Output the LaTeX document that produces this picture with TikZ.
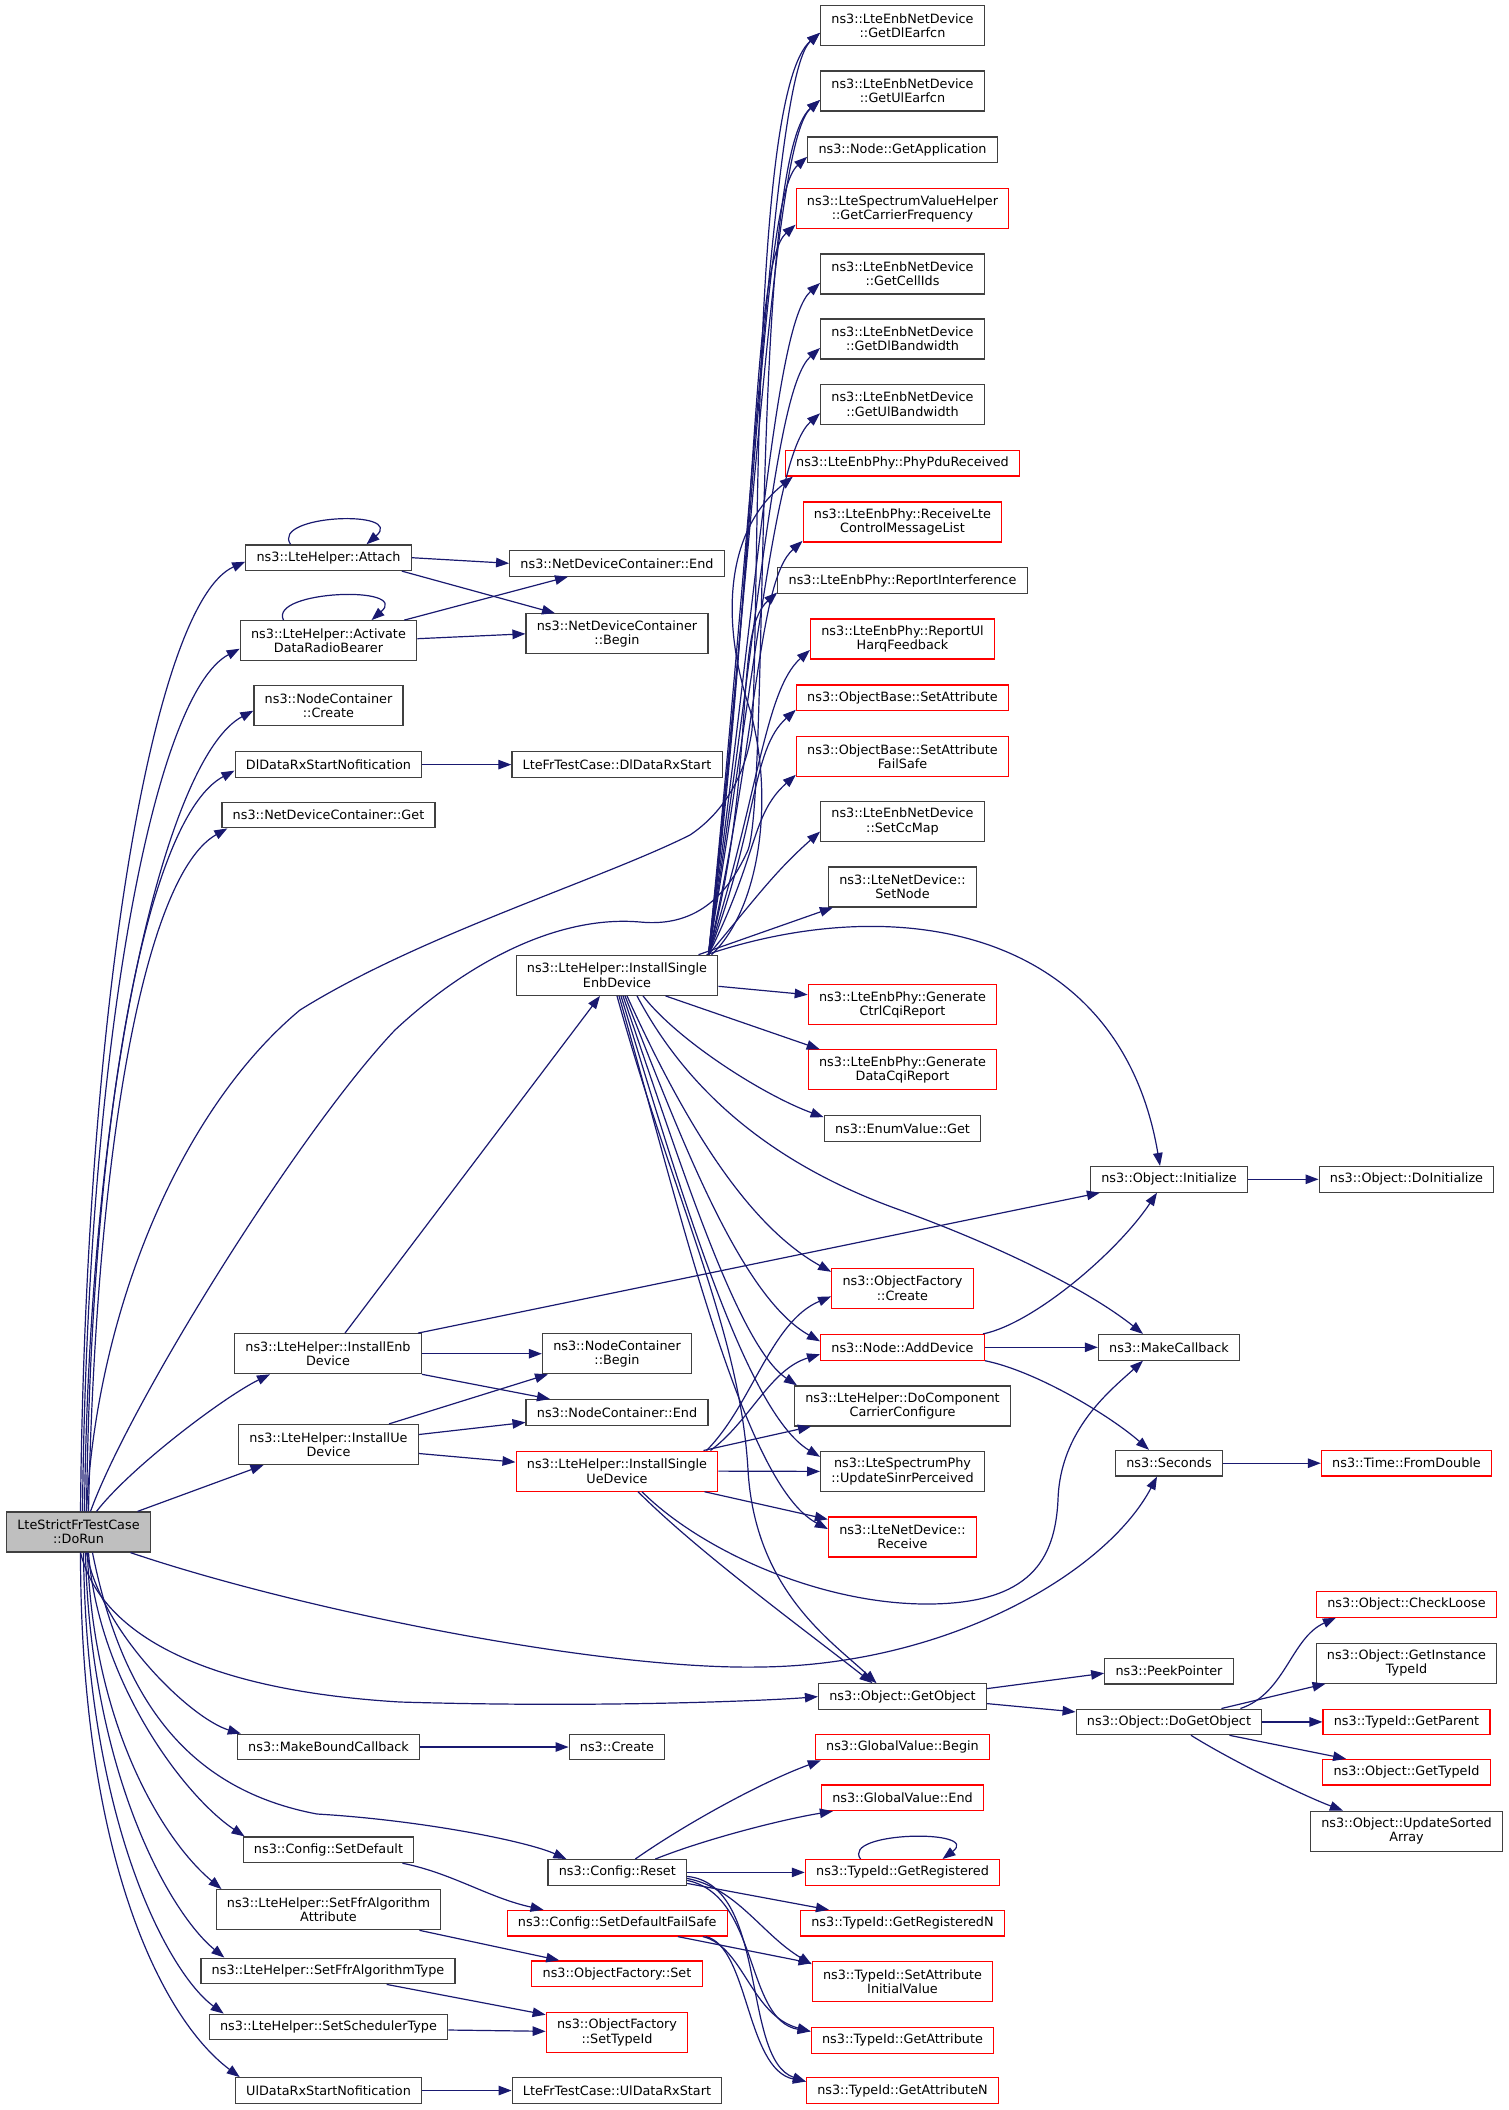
\documentclass[tikz,border=0pt]{standalone}
\usepackage{fontspec}
\setmainfont{DejaVu Sans}
\usetikzlibrary{arrows.meta}
\definecolor{edgeblue}{HTML}{191970}
\definecolor{boxgray}{HTML}{404040}
\definecolor{rootfill}{HTML}{BFBFBF}

\begin{document}
\begin{tikzpicture}[x=1pt,y=-1pt,
    fn/.style={draw=boxgray,line width=1.2pt,fill=white,align=center,inner xsep=10.8pt,inner ysep=6.4pt,minimum height=25.6pt,font=\fontsize{12.8}{14.4}\selectfont},
    two/.style={minimum height=40pt},
    trunc/.style={draw=red},
    callarrow/.style={draw=edgeblue,line width=1.2pt,-{Triangle[length=13pt,width=9.5pt]}}]
    \useasboundingbox (0,0) rectangle (1508,2110);

    % caller and first level
    \node[fn,two,fill=rootfill] (dorun) at (78.5,1532) {LteStrictFrTestCase\\::DoRun};
    \node[fn] (att) at (328.5,557.7) {ns3::LteHelper::Attach};
    \node[fn,two] (adrb) at (328.5,640.7) {ns3::LteHelper::Activate\\DataRadioBearer};
    \node[fn,two] (ncc) at (328.5,705.7) {ns3::NodeContainer\\::Create};
    \node[fn] (dlnot) at (328.5,764.6) {DlDataRxStartNofitication};
    \node[fn] (ndcg) at (328.5,815) {ns3::NetDeviceContainer::Get};
    \node[fn,two] (iedev) at (328,1353.7) {ns3::LteHelper::InstallEnb\\Device};
    \node[fn,two] (iudev) at (328.5,1444.5) {ns3::LteHelper::InstallUe\\Device};
    \node[fn] (mbc) at (328.5,1747) {ns3::MakeBoundCallback};
    \node[fn] (csd) at (328.5,1849.8) {ns3::Config::SetDefault};
    \node[fn,two] (sffa) at (328.5,1909.7) {ns3::LteHelper::SetFfrAlgorithm\\Attribute};
    \node[fn] (sfft) at (328,1971) {ns3::LteHelper::SetFfrAlgorithmType};
    \node[fn] (sst) at (328.5,2027) {ns3::LteHelper::SetSchedulerType};
    \node[fn] (ulnot) at (328.5,2090.5) {UlDataRxStartNofitication};

    % second level
    \node[fn] (ndce) at (617,563.3) {ns3::NetDeviceContainer::End};
    \node[fn,two] (ndcb) at (617,633.8) {ns3::NetDeviceContainer\\::Begin};
    \node[fn] (dlrx) at (617,764.6) {LteFrTestCase::DlDataRxStart};
    \node[fn,two] (iseb) at (617,975.3) {ns3::LteHelper::InstallSingle\\EnbDevice};
    \node[fn,two] (ncb) at (617,1353.7) {ns3::NodeContainer\\::Begin};
    \node[fn] (nce) at (617,1412.4) {ns3::NodeContainer::End};
    \node[fn,two,trunc] (isue) at (617,1471.1) {ns3::LteHelper::InstallSingle\\UeDevice};
    \node[fn] (crt) at (617,1747) {ns3::Create};
    \node[fn] (crst) at (617.3,1872.4) {ns3::Config::Reset};
    \node[fn,trunc] (cdfs) at (617.2,1923.2) {ns3::Config::SetDefaultFailSafe};
    \node[fn,trunc] (ofs) at (617,1973.7) {ns3::ObjectFactory::Set};
    \node[fn,two,trunc] (ofst) at (617,2032.3) {ns3::ObjectFactory\\::SetTypeId};
    \node[fn] (ulrx) at (617,2090.5) {LteFrTestCase::UlDataRxStart};

    % third level
    \node[fn,two] (gdle) at (902.5,25.8) {ns3::LteEnbNetDevice\\::GetDlEarfcn};
    \node[fn,two] (gule) at (902.5,91) {ns3::LteEnbNetDevice\\::GetUlEarfcn};
    \node[fn] (gapp) at (902.5,149.8) {ns3::Node::GetApplication};
    \node[fn,two,trunc] (gcf) at (902.5,208.7) {ns3::LteSpectrumValueHelper\\::GetCarrierFrequency};
    \node[fn,two] (gcid) at (902.5,274) {ns3::LteEnbNetDevice\\::GetCellIds};
    \node[fn,two] (gdbw) at (902.5,339) {ns3::LteEnbNetDevice\\::GetDlBandwidth};
    \node[fn,two] (gubw) at (902.5,404.3) {ns3::LteEnbNetDevice\\::GetUlBandwidth};
    \node[fn,trunc] (ppr) at (902.5,463.2) {ns3::LteEnbPhy::PhyPduReceived};
    \node[fn,two,trunc] (rlcm) at (902.5,521.9) {ns3::LteEnbPhy::ReceiveLte\\ControlMessageList};
    \node[fn] (rint) at (902.5,580.5) {ns3::LteEnbPhy::ReportInterference};
    \node[fn,two,trunc] (rul) at (902.5,639) {ns3::LteEnbPhy::ReportUl\\HarqFeedback};
    \node[fn,trunc] (osa) at (902.5,697.8) {ns3::ObjectBase::SetAttribute};
    \node[fn,two,trunc] (osafs) at (902.5,756.8) {ns3::ObjectBase::SetAttribute\\FailSafe};
    \node[fn,two] (sccm) at (902.5,821.6) {ns3::LteEnbNetDevice\\::SetCcMap};
    \node[fn,two] (snd) at (902.5,886.9) {ns3::LteNetDevice::\\SetNode};
    \node[fn,two,trunc] (gccr) at (902.5,1004.7) {ns3::LteEnbPhy::Generate\\CtrlCqiReport};
    \node[fn,two,trunc] (gdcr) at (902.5,1069.8) {ns3::LteEnbPhy::Generate\\DataCqiReport};
    \node[fn] (evg) at (902.5,1128.6) {ns3::EnumValue::Get};
    \node[fn,two,trunc] (ofc) at (902.5,1288.4) {ns3::ObjectFactory\\::Create};
    \node[fn,trunc] (adev) at (902.5,1347.3) {ns3::Node::AddDevice};
    \node[fn,two] (dccc) at (902.5,1405.9) {ns3::LteHelper::DoComponent\\CarrierConfigure};
    \node[fn,two] (usp) at (902.5,1471.4) {ns3::LteSpectrumPhy\\::UpdateSinrPerceived};
    \node[fn,two,trunc] (rcv) at (902.5,1537) {ns3::LteNetDevice::\\Receive};
    \node[fn] (gobj) at (902.5,1696.6) {ns3::Object::GetObject};
    \node[fn,trunc] (gvb) at (902.5,1747) {ns3::GlobalValue::Begin};
    \node[fn,trunc] (gve) at (902.5,1797.8) {ns3::GlobalValue::End};
    \node[fn,trunc] (greg) at (902.5,1872.4) {ns3::TypeId::GetRegistered};
    \node[fn,trunc] (gregn) at (902.5,1923.2) {ns3::TypeId::GetRegisteredN};
    \node[fn,two,trunc] (saiv) at (902.5,1981.8) {ns3::TypeId::SetAttribute\\InitialValue};
    \node[fn,trunc] (gatt) at (902.5,2040.4) {ns3::TypeId::GetAttribute};
    \node[fn,trunc] (gattn) at (902.5,2090.5) {ns3::TypeId::GetAttributeN};

    % fourth and fifth level
    \node[fn] (init) at (1169,1179.3) {ns3::Object::Initialize};
    \node[fn] (mcb) at (1169,1347.3) {ns3::MakeCallback};
    \node[fn] (sec) at (1169,1463.2) {ns3::Seconds};
    \node[fn] (peek) at (1169,1671.2) {ns3::PeekPointer};
    \node[fn] (dgo) at (1169,1721.9) {ns3::Object::DoGetObject};
    \node[fn] (doinit) at (1406.5,1179.3) {ns3::Object::DoInitialize};
    \node[fn,trunc] (fdbl) at (1406.5,1463.2) {ns3::Time::FromDouble};
    \node[fn,trunc] (chkl) at (1406.5,1604.4) {ns3::Object::CheckLoose};
    \node[fn,two] (gitid) at (1406.5,1663.1) {ns3::Object::GetInstance\\TypeId};
    \node[fn,trunc] (gpar) at (1406.5,1721.9) {ns3::TypeId::GetParent};
    \node[fn,trunc] (gtid) at (1406.5,1772.2) {ns3::Object::GetTypeId};
    \node[fn,two] (usa) at (1406.5,1831.1) {ns3::Object::UpdateSorted\\Array};

    % DoRun upwards
    \draw[callarrow] ([xshift=2pt]dorun.north) .. controls +(5,-520) and +(-90,40) .. ([yshift=-4pt]att.west);
    \draw[callarrow] ([xshift=4pt]dorun.north) .. controls +(5,-475) and +(-85,45) .. ([yshift=-8pt]adrb.west);
    \draw[callarrow] ([xshift=6pt]dorun.north) .. controls +(5,-440) and +(-85,45) .. ([yshift=-5pt]ncc.west);
    \draw[callarrow] ([xshift=8pt]dorun.north) .. controls +(5,-410) and +(-85,45) .. ([yshift=-6pt]dlnot.west);
    \draw[callarrow] ([xshift=10pt]dorun.north) .. controls +(8,-380) and +(-80,45) .. ([xshift=6pt]ndcg.south west);
    \draw[callarrow] ([xshift=18pt]dorun.north) .. controls +(35,-45) and +(-45,22) .. ([xshift=-58pt]iedev.south);
    \draw[callarrow] ([xshift=59pt]dorun.north) -- ([xshift=-65pt]iudev.south);
    \draw[callarrow] ([xshift=8pt]dorun.north) .. controls +(10,-200) and (180,1110) .. (300,1010)
        .. controls (420,935) and (600,880) .. (690,835) .. controls (720,815) and (745,780) .. (752,730)
        .. controls (760,600) and +(-70,60) .. ([yshift=-7pt]gdle.west);
    \draw[callarrow] ([xshift=12pt]dorun.north) .. controls +(40,-110) and (300,1130) .. (395,1030)
        .. controls (470,960) and (560,915) .. (640,922) .. controls (700,928) and (730,890) .. (748,850)
        .. controls (770,790) and +(-70,60) .. ([yshift=-9pt]gule.west);

    % DoRun downwards
    \draw[callarrow] ([xshift=8pt]dorun.south) .. controls +(15,80) and +(-50,-15) .. ([xshift=4pt]mbc.north west);
    \draw[callarrow] ([xshift=10pt]dorun.south) .. controls +(10,130) and +(-60,-40) .. ([xshift=2pt]csd.north west);
    \draw[callarrow] ([xshift=9pt]dorun.south) .. controls +(5,170) and +(-60,-50) .. ([xshift=6pt]sffa.north west);
    \draw[callarrow] ([xshift=7pt]dorun.south) .. controls +(5,220) and +(-55,-45) .. ([xshift=24pt]sfft.north west);
    \draw[callarrow] ([xshift=5pt]dorun.south) .. controls +(3,270) and +(-55,-40) .. ([xshift=15pt]sst.north west);
    \draw[callarrow] ([xshift=2pt]dorun.south) .. controls +(0,300) and +(-80,-60) .. ([xshift=5pt]ulnot.north west);
    \draw[callarrow] ([xshift=14pt]dorun.south) .. controls +(30,150) and (190,1790) .. (317,1814)
        .. controls (420,1820) and +(-40,-18) .. ([xshift=19pt]crst.north west);
    \draw[callarrow] ([xshift=2pt]dorun.south) .. controls +(20,80) and (200,1690) .. (400,1702)
        .. controls (600,1708) and +(-50,4) .. (gobj.west);
    \draw[callarrow] ([xshift=52pt]dorun.south) .. controls (300,1610) and (600,1670) .. (760,1667)
        .. controls (950,1665) and +(-50,95) .. ([xshift=-12pt]sec.south);

    % first level to second level
    \draw[callarrow] ([xshift=-38pt]att.north) .. controls +(-20,-30) and +(40,-35) .. ([xshift=38pt]att.north);
    \draw[callarrow] (att.east) -- (ndce.west);
    \draw[callarrow] ([xshift=-10pt]att.south east) -- ([xshift=-62pt]ndcb.north);
    \draw[callarrow] ([xshift=-45pt]adrb.north) .. controls +(-15,-30) and +(40,-35) .. ([xshift=43pt]adrb.north);
    \draw[callarrow] ([xshift=-13pt]adrb.north east) -- ([xshift=-49pt]ndce.south);
    \draw[callarrow] ([yshift=2pt]adrb.east) -- (ndcb.west);
    \draw[callarrow] (dlnot.east) -- (dlrx.west);
    \draw[callarrow] (ulnot.east) -- (ulrx.west);
    \draw[callarrow] (mbc.east) -- (crt.west);
    \draw[callarrow] ([xshift=17pt]iedev.north) -- ([xshift=-17pt]iseb.south);
    \draw[callarrow] ([xshift=-4pt]iedev.north east) -- ([xshift=10pt]init.south west);
    \draw[callarrow] (iedev.east) -- (ncb.west);
    \draw[callarrow] (iedev.south east) -- ([xshift=-67pt]nce.north);
    \draw[callarrow] ([xshift=-30pt]iudev.north east) -- ([xshift=-69pt]ncb.south);
    \draw[callarrow] ([yshift=10pt]iudev.east) -- ([yshift=-10pt]nce.west);
    \draw[callarrow] ([yshift=-9pt]iudev.east) -- ([yshift=9pt]isue.west);
    \draw[callarrow] ([xshift=-12pt]csd.south east) .. controls +(50,10) and +(-55,-12) .. ([xshift=37pt]cdfs.north west);
    \draw[callarrow] ([xshift=-22pt]sffa.south east) -- ([xshift=28pt]ofs.north west);
    \draw[callarrow] ([xshift=-69pt]sfft.south east) -- ([yshift=-3pt]ofst.north west);
    \draw[callarrow] ([yshift=-3pt]sst.east) -- ([yshift=1pt]ofst.west);

    % InstallSingleEnbDevice, upper bundle
    \foreach \t/\dy/\h in {gdle/-7/500,gule/-9/470,gapp/-7/440,gcf/-16/400,gcid/-9/370,gdbw/-9/330,gubw/-9/300,rlcm/-19/220,rint/-12/190,rul/-11/160,osa/-12/130,osafs/-18/100,sccm/-10/60}
        \draw[callarrow] ([xshift=-10pt]iseb.north east) .. controls +(50,-\h) and +(-45,40) .. ([yshift=\dy pt]\t.west);
    \draw[callarrow] ([xshift=-7pt]iseb.north east) .. controls +(48,-45) and (775,800) .. (750,710)
        .. controls (720,620) and +(-67,54) .. ([xshift=8pt]ppr.south west);
    \draw[callarrow] ([xshift=-20pt]iseb.north east) -- ([xshift=5pt]snd.south west);
    \draw[callarrow] ([xshift=-12pt]iseb.north east) .. controls +(193,-65) and +(-40,-237) .. ([xshift=-9pt]init.north);
    \draw[callarrow] ([yshift=-11pt]iseb.east) -- ([yshift=10pt]gccr.west);

    % InstallSingleEnbDevice, lower bundle
    \draw[callarrow] ([xshift=-53pt]iseb.south east) -- ([xshift=12pt]gdcr.north west);
    \draw[callarrow] ([xshift=26pt]iseb.south) .. controls +(35,45) and +(-60,-22) .. ([yshift=-2pt]evg.north west);
    \draw[callarrow] ([xshift=20pt]iseb.south) .. controls +(45,85) and (760,1160) .. (900,1210)
        .. controls (1010,1250) and +(-50,-40) .. ([xshift=-26pt]mcb.north);
    \draw[callarrow] ([xshift=10pt]iseb.south) .. controls +(50,110) and +(-90,-50) .. ([yshift=-4pt]ofc.north west);
    \draw[callarrow] ([xshift=8pt]iseb.south) .. controls +(55,140) and +(-80,-45) .. ([yshift=6pt]adev.west);
    \draw[callarrow] ([xshift=6pt]iseb.south) .. controls +(55,160) and +(-60,-40) .. ([xshift=3pt]dccc.north west);
    \draw[callarrow] ([xshift=4pt]iseb.south) .. controls +(58,190) and +(-75,-45) .. ([yshift=-6pt]usp.north west);
    \draw[callarrow] ([xshift=2pt]iseb.south) .. controls +(60,210) and +(-85,-45) .. ([yshift=8pt]rcv.west);
    \draw[callarrow] (iseb.south) .. controls +(55,200) and (740,1330) .. (748,1470)
        .. controls (755,1590) and +(-46,-43) .. ([xshift=-26pt]gobj.north);

    % InstallSingleUeDevice
    \draw[callarrow] ([xshift=-12pt]isue.north east) .. controls +(45,-45) and +(-60,25) .. ([yshift=-8pt]ofc.west);
    \draw[callarrow] ([xshift=-8pt]isue.north east) .. controls +(40,-30) and +(-50,15) .. ([yshift=-7pt]adev.west);
    \draw[callarrow] ([xshift=-15pt]isue.north east) -- ([xshift=17pt]dccc.south west);
    \draw[callarrow] (isue.east) -- (usp.west);
    \draw[callarrow] ([xshift=-14pt]isue.south east) -- ([yshift=-3pt]rcv.north west);
    \draw[callarrow] ([xshift=21pt]isue.south) .. controls +(60,60) and +(-70,-55) .. ([xshift=-30pt]gobj.north);
    \draw[callarrow] ([xshift=25pt]isue.south) .. controls +(58,58) and (820,1605) .. (930,1604)
        .. controls (1030,1603) and (1055,1560) .. (1058,1500)
        .. controls (1060,1430) and +(-33,30) .. ([xshift=-26pt]mcb.south);

    % AddDevice and onwards
    \draw[callarrow] ([xshift=-2pt]adev.north east) .. controls +(50,-10) and +(-40,60) .. ([xshift=-12pt]init.south);
    \draw[callarrow] (adev.east) -- (mcb.west);
    \draw[callarrow] (adev.south east) .. controls +(50,10) and +(-40,-35) .. ([xshift=-20pt]sec.north);
    \draw[callarrow] (init.east) -- (doinit.west);
    \draw[callarrow] (sec.east) -- (fdbl.west);
    \draw[callarrow] ([yshift=8pt]gobj.east) -- ([yshift=-2pt]peek.west);
    \draw[callarrow] ([yshift=-7pt]gobj.east) -- ([yshift=10pt]dgo.west);
    \draw[callarrow] ([xshift=-22pt]dgo.north east) .. controls +(45,-15) and +(-45,20) .. ([xshift=20pt]chkl.south west);
    \draw[callarrow] ([xshift=-41pt]dgo.north east) -- ([xshift=10pt]gitid.south west);
    \draw[callarrow] (dgo.east) -- (gpar.west);
    \draw[callarrow] ([xshift=-33pt]dgo.south east) -- ([xshift=24pt]gtid.north west);
    \draw[callarrow] ([xshift=22pt]dgo.south) .. controls +(40,25) and +(-40,-15) .. ([xshift=33pt]usa.north west);

    % Config::Reset and SetDefaultFailSafe
    \draw[callarrow] ([xshift=18pt]crst.north) .. controls +(50,-35) and +(-60,22) .. ([xshift=6pt]gvb.south west);
    \draw[callarrow] ([xshift=38pt]crst.north) .. controls +(50,-20) and +(-50,8) .. ([xshift=12pt]gve.south west);
    \draw[callarrow] (crst.east) -- (greg.west);
    \draw[callarrow] ([xshift=-42pt]greg.north) .. controls +(-20,-28) and +(40,-30) .. ([xshift=40pt]greg.north);
    \draw[callarrow] ([yshift=-11pt]crst.east) -- ([xshift=29pt]gregn.north west);
    \draw[callarrow] ([yshift=-6pt]crst.east) .. controls +(50,10) and +(-50,-30) .. ([yshift=-3pt]saiv.north west);
    \draw[callarrow] ([yshift=-8pt]crst.east) .. controls +(72,15) and +(-66,-11) .. ([yshift=9pt]gatt.west);
    \draw[callarrow] ([yshift=-4pt]crst.east) .. controls +(82,8) and +(-65,-22) .. ([yshift=9pt]gattn.west);
    \draw[callarrow] ([xshift=-50pt]cdfs.south east) -- ([yshift=-2pt]saiv.north west);
    \draw[callarrow] ([xshift=-25pt]cdfs.south east) .. controls +(41,10) and +(-60,-16) .. ([yshift=9pt]gatt.west);
    \draw[callarrow] ([xshift=-22pt]cdfs.south east) .. controls +(43,10) and +(-60,-12) .. ([yshift=9pt]gattn.west);
\end{tikzpicture}
\end{document}
